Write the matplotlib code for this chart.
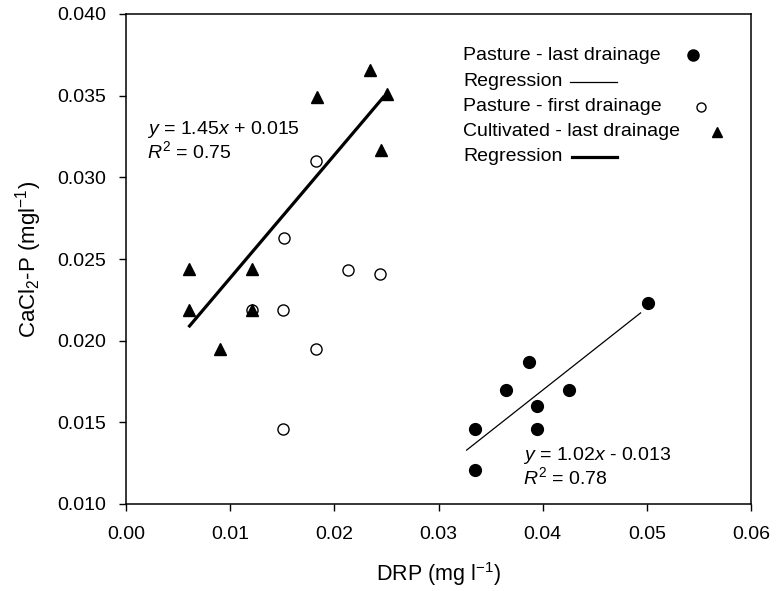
import matplotlib
matplotlib.use("Agg")
import matplotlib.pyplot as plt

plt.rcParams['font.family'] = ['Liberation Sans', 'DejaVu Sans']
plt.rcParams['mathtext.fontset'] = 'custom'
plt.rcParams['mathtext.rm'] = 'Liberation Sans'
plt.rcParams['mathtext.it'] = 'Liberation Sans:italic'

# Pasture - last drainage (filled circles)
past_last_x = [0.0501, 0.0387, 0.0365, 0.0425, 0.0395, 0.0335, 0.0395, 0.0335]
past_last_y = [0.0223, 0.0187, 0.0170, 0.0170, 0.0160, 0.0146, 0.0146, 0.0121]
# Pasture - first drainage (open circles)
past_first_x = [0.0182, 0.0152, 0.0213, 0.0244, 0.0151, 0.0182, 0.0151, 0.0121]
past_first_y = [0.0310, 0.0263, 0.0243, 0.0241, 0.0219, 0.0195, 0.0146, 0.0219]
# Cultivated - last drainage (triangles)
cult_x = [0.0234, 0.0251, 0.0183, 0.0245, 0.0060, 0.0121, 0.0060, 0.0121, 0.0090]
cult_y = [0.0366, 0.0351, 0.0349, 0.0317, 0.0244, 0.0244, 0.0219, 0.0219, 0.0195]
# Regression lines (end points)
reg_past_x = [0.0327, 0.0494]
reg_past_y = [0.0133, 0.0217]
reg_cult_x = [0.0061, 0.0247]
reg_cult_y = [0.0209, 0.0349]

xticks = [0.00, 0.01, 0.02, 0.03, 0.04, 0.05, 0.06]
xticklabels = ['0.00', '0.01', '0.02', '0.03', '0.04', '0.05', '0.06']
yticks = [0.010, 0.015, 0.020, 0.025, 0.030, 0.035, 0.040]
yticklabels = ['0.010', '0.015', '0.020', '0.025', '0.030', '0.035', '0.040']

fig = plt.figure(figsize=(7.81, 5.91), dpi=100)
ax = fig.add_axes([126/781, 87/591, 625/781, 490/591])

ax.plot(reg_past_x, reg_past_y, color='black', lw=0.9)
ax.plot(reg_cult_x, reg_cult_y, color='black', lw=2.3)
ax.plot(past_last_x, past_last_y, 'o', color='black', ms=8.5, ls='none')
ax.plot(past_first_x, past_first_y, 'o', mfc='white', mec='black', mew=1.0, ms=8, ls='none')
ax.plot(cult_x, cult_y, '^', color='black', ms=8.5, ls='none')

ax.set_xlim(0, 0.06)
ax.set_ylim(0.010, 0.040)
ax.set_xticks(xticks)
ax.set_xticklabels(xticklabels)
ax.set_yticks(yticks)
ax.set_yticklabels(yticklabels)
ax.tick_params(direction='out', length=5, width=1, labelsize=14)
ax.tick_params(axis='x', pad=11)
ax.tick_params(axis='y', pad=9)
for s in ax.spines.values():
    s.set_linewidth(1.1)

ax.set_xlabel('DRP (mg l$^{-1}$)', fontsize=15.5, labelpad=12)
ax.set_ylabel('CaCl$_2$-P (mgl$^{-1}$)', fontsize=16, labelpad=10)

ax.text(0.0020, 0.03263, '$y$ = 1.45$x$ + 0.015', fontsize=14, va='baseline')
ax.text(0.0020, 0.03118, '$R^2$ = 0.75', fontsize=14, va='baseline')
ax.text(0.0381, 0.01269, '$y$ = 1.02$x$ - 0.013', fontsize=14, va='baseline')
ax.text(0.0381, 0.01124, '$R^2$ = 0.78', fontsize=14, va='baseline')

# custom legend
tr = ax.transAxes
lx = 0.5392
rows = [0.9163, 0.8618, 0.8108, 0.7598, 0.7088]
labels = ['Pasture - last drainage', 'Regression', 'Pasture - first drainage',
          'Cultivated - last drainage', 'Regression']
for r, t in zip(rows, labels):
    ax.text(lx, r, t, transform=tr, fontsize=14, va='center', ha='left')
ax.plot([0.9072], [rows[0]], 'o', color='black', ms=8, transform=tr, clip_on=False)
ax.plot([0.7104, 0.7856], [rows[1], rows[1]], color='black', lw=0.9, transform=tr)
ax.plot([0.9200], [rows[2]], 'o', mfc='white', mec='black', mew=1.0, ms=6.5, transform=tr)
ax.plot([0.9456], [rows[3]], '^', color='black', ms=7.5, transform=tr)
ax.plot([0.7136, 0.7856], [rows[4], rows[4]], color='black', lw=2.3, transform=tr)

fig.savefig('out.png', dpi=100)
